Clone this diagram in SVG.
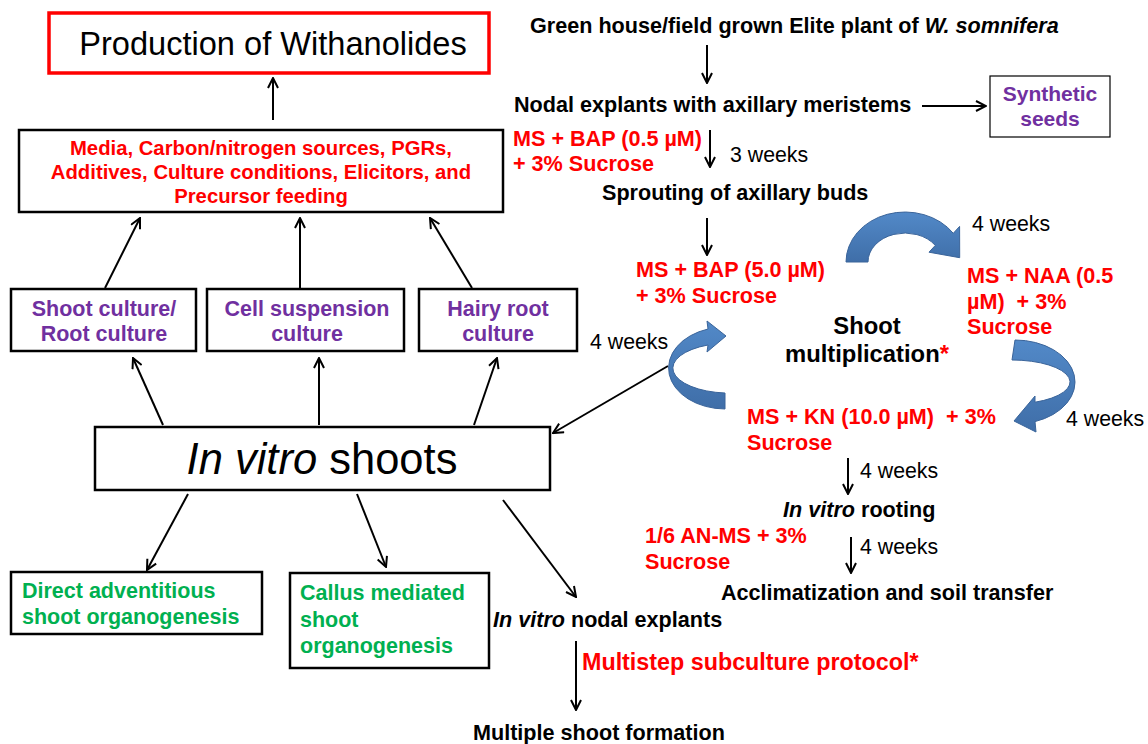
<svg xmlns="http://www.w3.org/2000/svg" width="1148" height="744" viewBox="0 0 1148 744">
<style>
text{font-family:"Liberation Sans",Arial,sans-serif;white-space:pre}
.b{font-weight:bold;font-size:21.6px;fill:#000}
.r{font-weight:bold;font-size:21.6px;fill:#FF0000}
.rm{font-weight:bold;font-size:20.3px;fill:#FF0000}
.p{font-weight:bold;font-size:21.5px;fill:#7030A0}
.g{font-weight:bold;font-size:21.5px;fill:#00B050}
.w{font-size:21.3px;fill:#000}
.box{fill:#fff;stroke:#000;stroke-width:2.5}
.ln{fill:none;stroke:#000;stroke-width:2}
.blue{fill:url(#bg);stroke:#3A649A;stroke-width:1}
</style>
<defs>
<marker id="ah" viewBox="0 0 12 12" refX="11" refY="6" markerWidth="12" markerHeight="12" markerUnits="userSpaceOnUse" orient="auto">
<path d="M1,1 L11,6 L1,11" fill="none" stroke="#000" stroke-width="2"/>
</marker>
<linearGradient id="bg" x1="0" y1="0" x2="0" y2="1"><stop offset="0" stop-color="#5289C8"/><stop offset="1" stop-color="#3F6EA8"/></linearGradient>
</defs>
<g id="production"><rect x="49" y="13" width="440" height="60" fill="#fff" stroke="#FF0000" stroke-width="3.5"/><text x="273" y="55" text-anchor="middle" style="font-size:32.6px">Production of Withanolides</text></g>
<g id="media"><rect class="box" x="19" y="130" width="484" height="82"/><text class="rm" text-anchor="middle"><tspan x="261" y="155">Media, Carbon/nitrogen sources, PGRs,</tspan><tspan x="261" y="179">Additives, Culture conditions, Elicitors, and</tspan><tspan x="261" y="203">Precursor feeding</tspan></text></g>
<g id="shootculture"><rect class="box" x="11" y="289" width="185" height="62"/><text class="p" text-anchor="middle"><tspan x="104" y="316">Shoot culture/</tspan><tspan x="104" y="341">Root culture</tspan></text></g>
<g id="cellsusp"><rect class="box" x="207" y="289" width="197" height="62"/><text class="p" text-anchor="middle"><tspan x="307" y="316">Cell suspension</tspan><tspan x="307" y="341">culture</tspan></text></g>
<g id="hairyroot"><rect class="box" x="419" y="289" width="158" height="62"/><text class="p" text-anchor="middle"><tspan x="498" y="316">Hairy root</tspan><tspan x="498" y="341">culture</tspan></text></g>
<g id="invitroshoots"><rect class="box" x="95" y="427" width="455" height="63"/><text x="322" y="474" text-anchor="middle" style="font-size:43.5px"><tspan font-style="italic">In vitro</tspan> shoots</text></g>
<g id="direct"><rect class="box" x="11" y="572" width="251" height="62"/><text class="g"><tspan x="22" y="598">Direct adventitious</tspan><tspan x="22" y="624">shoot organogenesis</tspan></text></g>
<g id="callus"><rect class="box" x="290" y="573" width="199" height="95"/><text class="g"><tspan x="300" y="600">Callus mediated</tspan><tspan x="300" y="627">shoot</tspan><tspan x="300" y="653">organogenesis</tspan></text></g>
<g id="synthetic"><rect x="990" y="76" width="120" height="61" fill="#fff" stroke="#000" stroke-width="1.2"/><text class="p" text-anchor="middle" style="font-size:21px"><tspan x="1050" y="101">Synthetic</tspan><tspan x="1050" y="126">seeds</tspan></text></g>
<g id="greenhouse"><text class="b" x="530" y="33">Green house/field grown Elite plant of <tspan font-style="italic">W. somnifera</tspan></text></g>
<g id="nodal"><text class="b" x="514" y="112">Nodal explants with axillary meristems</text></g>
<g id="bap05"><text class="r"><tspan x="513" y="146">MS + BAP (0.5 µM)</tspan><tspan x="513" y="171">+ 3% Sucrose</tspan></text></g>
<g id="sprouting"><text class="b" x="602" y="200">Sprouting of axillary buds</text></g>
<g id="bap50"><text class="r"><tspan x="636" y="277">MS + BAP (5.0 µM)</tspan><tspan x="636" y="303">+ 3% Sucrose</tspan></text></g>
<g id="naa"><text class="r"><tspan x="967" y="283">MS + NAA (0.5</tspan><tspan x="967" y="309">µM)  + 3%</tspan><tspan x="967" y="334">Sucrose</tspan></text></g>
<g id="shootmult"><text class="b" text-anchor="middle" style="font-size:23.8px"><tspan x="867" y="334">Shoot</tspan><tspan x="867" y="362">multiplication<tspan fill="#FF0000">*</tspan></tspan></text></g>
<g id="kn"><text class="r"><tspan x="747" y="424">MS + KN (10.0 µM)  + 3%</tspan><tspan x="747" y="450">Sucrose</tspan></text></g>
<g id="rooting"><text class="b" x="783" y="517"><tspan font-style="italic">In vitro</tspan> rooting</text></g>
<g id="anms"><text class="r"><tspan x="645" y="543">1/6 AN-MS + 3%</tspan><tspan x="645" y="569">Sucrose</tspan></text></g>
<g id="acclim"><text class="b" x="721" y="600">Acclimatization and soil transfer</text></g>
<g id="nodalinvitro"><text class="b" x="493" y="627"><tspan font-style="italic">In vitro</tspan> nodal explants</text></g>
<g id="multistep"><text class="r" x="582" y="670" style="font-size:23.3px">Multistep subculture protocol*</text></g>
<g id="multiple"><text class="b" x="473" y="740">Multiple shoot formation</text></g>
<g id="labels">
<text class="w" x="730" y="162">3 weeks</text>
<text class="w" x="972" y="231">4 weeks</text>
<text class="w" x="590" y="349">4 weeks</text>
<text class="w" x="1066" y="426">4 weeks</text>
<text class="w" x="860" y="478">4 weeks</text>
<text class="w" x="860" y="554">4 weeks</text>
</g>
<g id="connectors">
<line class="ln" x1="273" y1="120" x2="273" y2="78" marker-end="url(#ah)"/>
<line class="ln" x1="105" y1="288" x2="140" y2="218" marker-end="url(#ah)"/>
<line class="ln" x1="300" y1="288" x2="300" y2="218" marker-end="url(#ah)"/>
<line class="ln" x1="472" y1="288" x2="430" y2="218" marker-end="url(#ah)"/>
<line class="ln" x1="163" y1="425" x2="133" y2="358" marker-end="url(#ah)"/>
<line class="ln" x1="319" y1="425" x2="319" y2="358" marker-end="url(#ah)"/>
<line class="ln" x1="474" y1="425" x2="497" y2="358" marker-end="url(#ah)"/>
<line class="ln" x1="188" y1="494" x2="147" y2="570" marker-end="url(#ah)"/>
<line class="ln" x1="357" y1="494" x2="386" y2="567" marker-end="url(#ah)"/>
<line class="ln" x1="503" y1="500" x2="576" y2="597" marker-end="url(#ah)"/>
<line class="ln" x1="576" y1="641" x2="576" y2="710" marker-end="url(#ah)"/>
<line class="ln" x1="707" y1="45" x2="707" y2="83" marker-end="url(#ah)"/>
<line class="ln" x1="922" y1="106" x2="986" y2="106" marker-end="url(#ah)"/>
<line class="ln" x1="710" y1="130" x2="710" y2="167" marker-end="url(#ah)"/>
<line class="ln" x1="707" y1="218" x2="707" y2="255" marker-end="url(#ah)"/>
<line class="ln" x1="668" y1="366" x2="553" y2="433" marker-end="url(#ah)"/>
<line class="ln" x1="848" y1="458" x2="848" y2="494" marker-end="url(#ah)"/>
<line class="ln" x1="851" y1="537" x2="851" y2="573" marker-end="url(#ah)"/>
<path class="blue" d="M846,262 A59 50 0 0 1 953.3,233.3 L959.6,226.4 L959.7,257.7 L929,252.2 L935.3,245.4 A37 29 0 0 0 868,262 Z"/>
<path class="blue" d="M725,409 A57 41 0 0 1 708,329 L707,321 L726,336 L707,352 L708,345 A57 25 0 0 0 725,393 Z"/>
<path class="blue" d="M1015,340 A60 42 0 0 1 1035,421.6 L1036,432 L1014,421 L1035,396 L1035,402.2 A58 22 0 0 0 1012,360 Z"/>
</g>
</svg>
